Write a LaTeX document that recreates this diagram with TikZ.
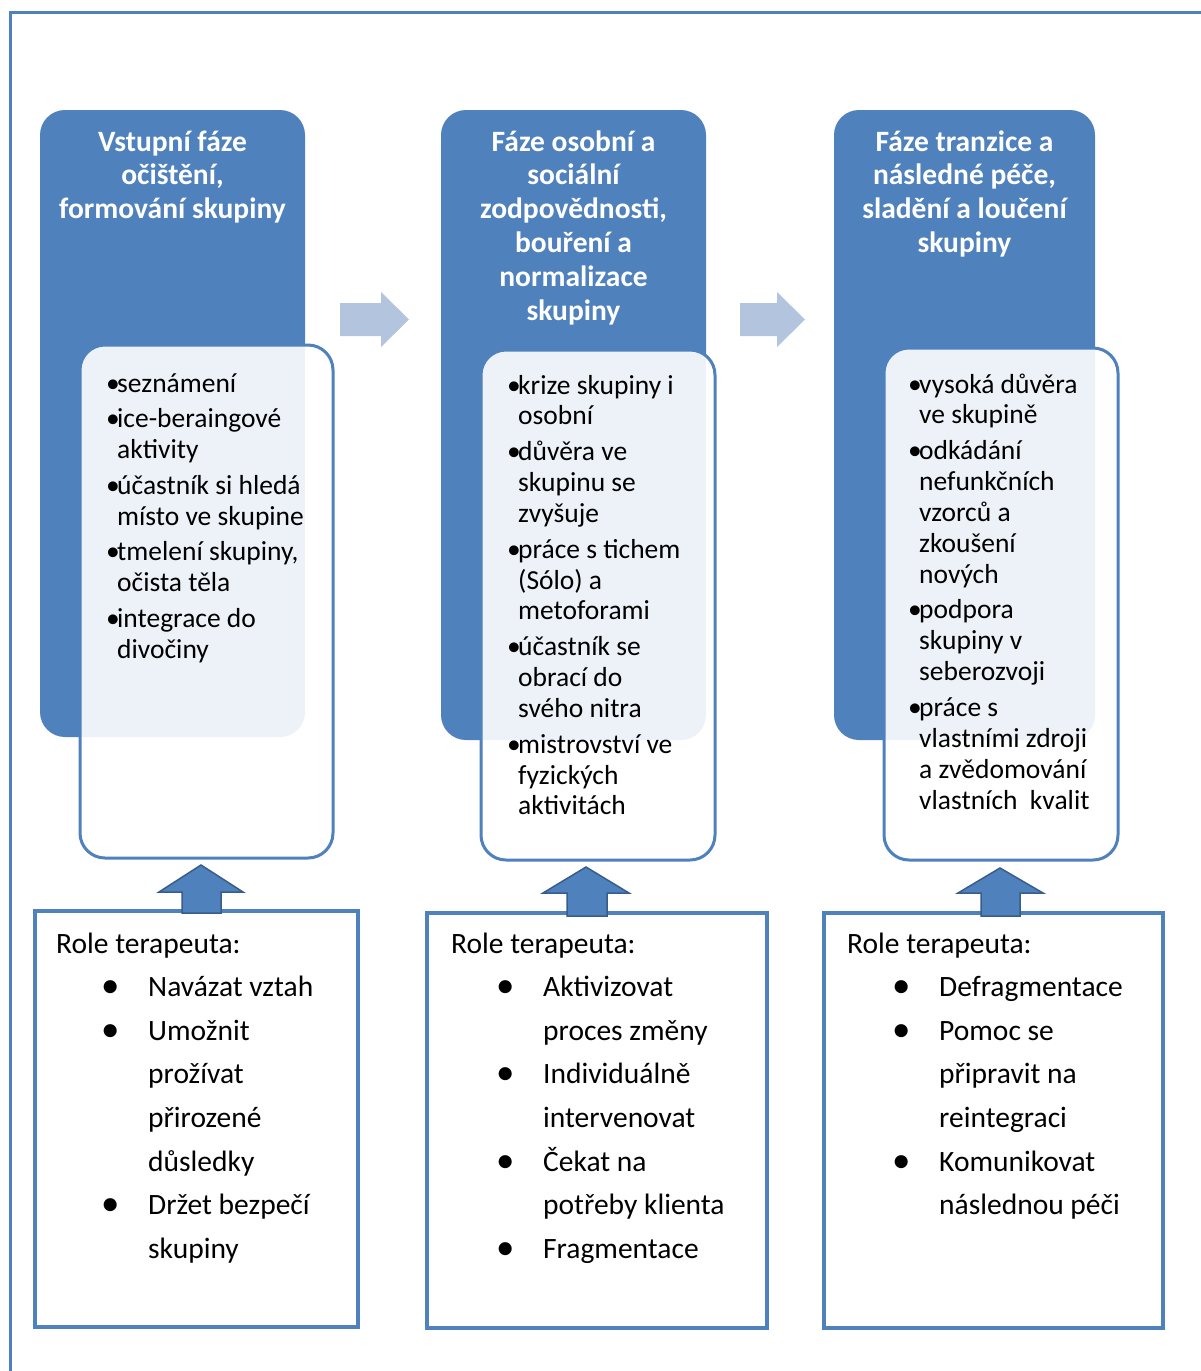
\documentclass[tikz,border=0pt]{standalone}
\usepackage{fontspec}
\setmainfont{Carlito}
\definecolor{accblue}{RGB}{79,129,189}
\definecolor{arrlight}{RGB}{179,196,222}
\definecolor{darkblue}{RGB}{56,93,138}
\newcommand{\ib}{\makebox[11pt][l]{•}}
\newcommand{\ic}{\hspace*{11pt}}
\newcommand{\rbul}{\makebox[92pt][l]{\hspace*{45pt}\raisebox{-0.04em}{\scalebox{1.25}{•}}}}
\newcommand{\rcont}{\hspace*{92pt}}
\begin{document}
\begin{tikzpicture}[x=1pt,y=-1pt,
  hdr/.style={fill=accblue, draw=none, rounded corners=25pt, inner sep=0pt, outer sep=0pt},
  inbox/.style={draw=accblue, line width=3pt, fill=white, fill opacity=0.9, rounded corners=25pt, inner sep=0pt, outer sep=0pt},
  rolebox/.style={draw=accblue, line width=3.5pt, fill=white, inner sep=0pt, outer sep=0pt},
  hdrtext/.style={text=white, font=\fontsize{29.5}{33.8}\selectfont\bfseries, inner sep=0pt, anchor=base},
  itemtext/.style={font=\fontsize{27.5}{30.9}\selectfont, inner sep=0pt, anchor=base west},
  roletext/.style={font=\fontsize{29.5}{43.6}\selectfont, inner sep=0pt, anchor=base west},
  rarrow/.style={fill=arrlight, draw=none},
  uarrow/.style={fill=accblue, draw=darkblue, line width=1.5pt, line join=miter},
  frame/.style={draw=accblue, line width=3pt}]
\useasboundingbox (0,0) rectangle (1201,1371);
\fill[white] (0,0) rectangle (1201,1371);
% outer frame
\draw[frame] (10,1371) -- (10,12) -- (1201,12);

% headers
\node[hdr, minimum width=265pt, minimum height=627pt] (h1) at (172.5,423.5) {};
\node[hdr, minimum width=265pt, minimum height=630pt] (h2) at (573.5,425) {};
\node[hdr, minimum width=261pt, minimum height=630pt] (h3) at (964.5,425) {};

\node[hdrtext] (h1t) at (172.5,151) {\begin{tabular}[t]{@{}c@{}}Vstupní fáze\\očištění,\\formování skupiny\end{tabular}};
\node[hdrtext] (h2t) at (573.5,151) {\begin{tabular}[t]{@{}c@{}}Fáze osobní a\\sociální\\zodpovědnosti,\\bouření a\\normalizace\\skupiny\end{tabular}};
\node[hdrtext] (h3t) at (964.5,151) {\begin{tabular}[t]{@{}c@{}}Fáze tranzice a\\následné péče,\\sladění a loučení\\skupiny\end{tabular}};

% inner boxes
\node[inbox, minimum width=253pt, minimum height=513pt] (i1) at (206.5,601.5) {};
\node[inbox, minimum width=234pt, minimum height=510pt] (i2) at (598,605) {};
\node[inbox, minimum width=234pt, minimum height=512pt] (i3) at (1001,604) {};

\node[itemtext] (i1t) at (106,392) {\begin{tabular}[t]{@{}l@{}}
\ib seznámení\\[4.8pt]
\ib ice-beraingové\\
\ic aktivity\\[4.8pt]
\ib účastník si hledá\\
\ic místo ve skupine\\[4.8pt]
\ib tmelení skupiny,\\
\ic očista těla\\[4.8pt]
\ib integrace do\\
\ic divočiny
\end{tabular}};

\node[itemtext] (i2t) at (507,394) {\begin{tabular}[t]{@{}l@{}}
\ib krize skupiny i\\
\ic osobní\\[4.8pt]
\ib důvěra ve\\
\ic skupinu se\\
\ic zvyšuje\\[4.8pt]
\ib práce s tichem\\
\ic (Sólo) a\\
\ic metoforami\\[4.8pt]
\ib účastník se\\
\ic obrací do\\
\ic svého nitra\\[4.8pt]
\ib mistrovství ve\\
\ic fyzických\\
\ic aktivitách
\end{tabular}};

\node[itemtext] (i3t) at (908,393) {\begin{tabular}[t]{@{}l@{}}
\ib vysoká důvěra\\
\ic ve skupině\\[4.8pt]
\ib odkádání\\
\ic nefunkčních\\
\ic vzorců a\\
\ic zkoušení\\
\ic nových\\[4.8pt]
\ib podpora\\
\ic skupiny v\\
\ic seberozvoji\\[4.8pt]
\ib práce s\\
\ic vlastními zdroji\\
\ic a zvědomování\\
\ic vlastních\ \ kvalit
\end{tabular}};

% right arrows
\fill[rarrow] (340,303) -- (381,303) -- (381,292) -- (409,319.5) -- (381,347) -- (381,336) -- (340,336) -- cycle;
\fill[rarrow] (740,303) -- (777,303) -- (777,292) -- (805,319.5) -- (777,347) -- (777,336) -- (740,336) -- cycle;

% role boxes
\node[rolebox, minimum width=323pt, minimum height=416pt] (b1) at (196.5,1119) {};
\node[rolebox, minimum width=340pt, minimum height=415pt] (b2) at (597,1120.5) {};
\node[rolebox, minimum width=339pt, minimum height=415pt] (b3) at (993.5,1120.5) {};

\node[roletext] (b1t) at (56,953) {\begin{tabular}[t]{@{}l@{}}
Role terapeuta:\\
\rbul Navázat vztah\\
\rbul Umožnit\\
\rcont prožívat\\
\rcont přirozené\\
\rcont důsledky\\
\rbul Držet bezpečí\\
\rcont skupiny
\end{tabular}};

\node[roletext] (b2t) at (451,953) {\begin{tabular}[t]{@{}l@{}}
Role terapeuta:\\
\rbul Aktivizovat\\
\rcont proces změny\\
\rbul Individuálně\\
\rcont intervenovat\\
\rbul Čekat na\\
\rcont potřeby klienta\\
\rbul Fragmentace
\end{tabular}};

\node[roletext] (b3t) at (847,953) {\begin{tabular}[t]{@{}l@{}}
Role terapeuta:\\
\rbul Defragmentace\\
\rbul Pomoc se\\
\rcont připravit na\\
\rcont reintegraci\\
\rbul Komunikovat\\
\rcont následnou péči
\end{tabular}};

% up arrows
\draw[uarrow] (182,913) -- (182,892) -- (159,892) -- (201,865) -- (243,892) -- (221,892) -- (221,913) -- cycle;
\draw[uarrow] (567,916) -- (567,893) -- (543,893) -- (586,867) -- (629,893) -- (607,893) -- (607,916) -- cycle;
\draw[uarrow] (981,916) -- (981,893) -- (958,893) -- (1000,868) -- (1043,893) -- (1020,893) -- (1020,916) -- cycle;
\end{tikzpicture}
\end{document}
